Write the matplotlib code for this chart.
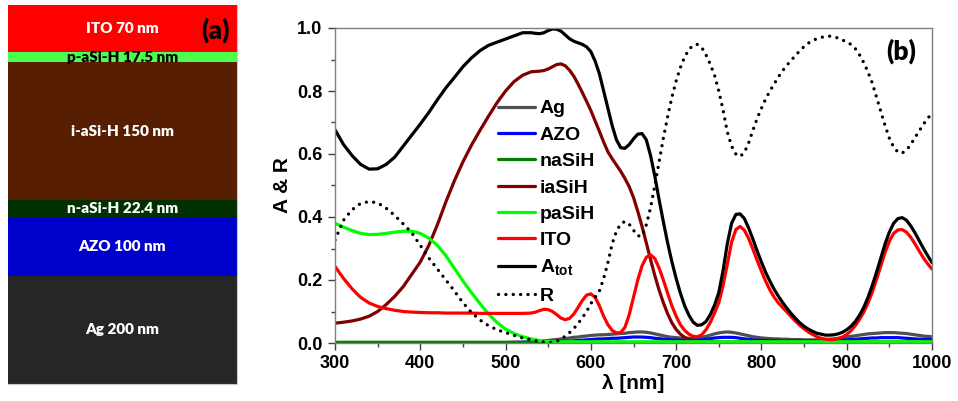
import numpy as np
import matplotlib
matplotlib.use("Agg")
import matplotlib.pyplot as plt
from matplotlib.ticker import MultipleLocator, FormatStrFormatter

# ---------------- data ----------------
# Panel (a): layer stack, listed bottom -> top (drawn heights are schematic)
layer_labels = ["Ag 200 nm", "AZO 100 nm", "n-aSi-H 22.4 nm", "i-aSi-H 150 nm", "p-aSi-H 17.5 nm", "ITO 70 nm"]
layer_heights = [108, 59, 17, 138, 10, 47]
layer_colors = ["#262626", "#0000CC", "#013001", "#581E02", "#4CFF4C", "#FF0000"]
layer_text_colors = ["white", "white", "white", "white", "black", "white"]

# Panel (b): absorption / reflection spectra (10 nm steps to 520, then 5 nm)
wavelength = [300, 310, 320, 330, 340, 350, 360, 370, 380, 390,
              400, 410, 420, 430, 440, 450, 460, 470, 480, 490,
              500, 510, 520,
              530, 535, 540, 545, 550, 555, 560, 565, 570, 575,
              580, 585, 590, 595, 600, 605, 610, 615, 620, 625,
              630, 635, 640, 645, 650, 655, 660, 665, 670, 675,
              680, 685, 690, 695, 700, 705, 710, 715, 720, 725,
              730, 735, 740, 745, 750, 755, 760, 765, 770, 775,
              780, 785, 790, 795, 800, 805, 810, 815, 820, 825,
              830, 835, 840, 845, 850, 855, 860, 865, 870, 875,
              880, 885, 890, 895, 900, 905, 910, 915, 920, 925,
              930, 935, 940, 945, 950, 955, 960, 965, 970, 975,
              980, 985, 990, 995, 1000]

A_Ag = [0.002, 0.002, 0.002, 0.002, 0.002, 0.002, 0.002, 0.002, 0.002, 0.002,
        0.002, 0.002, 0.002, 0.002, 0.002, 0.002, 0.002, 0.002, 0.002, 0.002,
        0.002, 0.003, 0.003,
        0.004, 0.005, 0.006, 0.007, 0.008, 0.010, 0.011, 0.013, 0.014, 0.016,
        0.018, 0.019, 0.021, 0.022, 0.024, 0.025, 0.026, 0.026, 0.027, 0.028,
        0.029, 0.030, 0.031, 0.033, 0.034, 0.035, 0.035, 0.034, 0.032, 0.029,
        0.026, 0.023, 0.020, 0.018, 0.017, 0.016, 0.015, 0.015, 0.015, 0.016,
        0.018, 0.021, 0.025, 0.029, 0.032, 0.034, 0.035, 0.034, 0.032, 0.029,
        0.026, 0.023, 0.020, 0.018, 0.016, 0.015, 0.014, 0.013, 0.013, 0.012,
        0.012, 0.011, 0.011, 0.011, 0.010, 0.010, 0.010, 0.010, 0.011, 0.011,
        0.012, 0.013, 0.015, 0.017, 0.019, 0.021, 0.023, 0.025, 0.027, 0.029,
        0.030, 0.031, 0.032, 0.033, 0.033, 0.033, 0.032, 0.031, 0.030, 0.028,
        0.026, 0.024, 0.022, 0.021, 0.020]

A_AZO = [0.001, 0.001, 0.001, 0.001, 0.001, 0.001, 0.001, 0.001, 0.001, 0.001,
         0.001, 0.001, 0.001, 0.001, 0.001, 0.001, 0.001, 0.001, 0.001, 0.001,
         0.001, 0.001, 0.002,
         0.002, 0.002, 0.002, 0.003, 0.003, 0.004, 0.004, 0.005, 0.005, 0.006,
         0.007, 0.008, 0.009, 0.010, 0.011, 0.012, 0.013, 0.013, 0.014, 0.015,
         0.015, 0.016, 0.017, 0.018, 0.019, 0.019, 0.019, 0.018, 0.017, 0.015,
         0.014, 0.012, 0.011, 0.010, 0.009, 0.009, 0.008, 0.008, 0.009, 0.009,
         0.010, 0.012, 0.014, 0.016, 0.017, 0.018, 0.018, 0.018, 0.017, 0.015,
         0.013, 0.012, 0.010, 0.009, 0.008, 0.008, 0.007, 0.007, 0.007, 0.006,
         0.006, 0.006, 0.006, 0.006, 0.006, 0.006, 0.006, 0.006, 0.006, 0.006,
         0.007, 0.007, 0.008, 0.009, 0.010, 0.011, 0.012, 0.013, 0.014, 0.015,
         0.016, 0.016, 0.017, 0.017, 0.017, 0.017, 0.017, 0.016, 0.015, 0.014,
         0.013, 0.012, 0.012, 0.011, 0.011]

A_naSiH = [0.004, 0.004, 0.004, 0.004, 0.004, 0.004, 0.004, 0.004, 0.004, 0.004,
           0.004, 0.004, 0.004, 0.004, 0.004, 0.004, 0.004, 0.004, 0.004, 0.004,
           0.004, 0.004, 0.004,
           0.004, 0.004, 0.004, 0.004, 0.004, 0.004, 0.004, 0.004, 0.004, 0.004,
           0.004, 0.004, 0.004, 0.004, 0.004, 0.004, 0.004, 0.004, 0.004, 0.004,
           0.004, 0.004, 0.004, 0.004, 0.004, 0.004, 0.004, 0.004, 0.004, 0.004,
           0.004, 0.004, 0.004, 0.004, 0.004, 0.004, 0.004, 0.004, 0.004, 0.004,
           0.004, 0.004, 0.004, 0.004, 0.004, 0.004, 0.004, 0.004, 0.004, 0.004,
           0.004, 0.004, 0.004, 0.004, 0.004, 0.004, 0.004, 0.004, 0.004, 0.004,
           0.004, 0.004, 0.004, 0.004, 0.004, 0.004, 0.004, 0.004, 0.004, 0.004,
           0.004, 0.004, 0.004, 0.004, 0.004, 0.004, 0.004, 0.004, 0.004, 0.004,
           0.004, 0.004, 0.004, 0.004, 0.004, 0.004, 0.004, 0.004, 0.004, 0.004,
           0.004, 0.004, 0.004, 0.004, 0.004]

A_iaSiH = [0.063, 0.066, 0.070, 0.076, 0.085, 0.100, 0.122, 0.148, 0.179, 0.218,
           0.257, 0.310, 0.375, 0.448, 0.515, 0.575, 0.628, 0.675, 0.720, 0.763,
           0.800, 0.830, 0.850,
           0.861, 0.862, 0.863, 0.865, 0.870, 0.877, 0.884, 0.886, 0.880, 0.866,
           0.847, 0.822, 0.795, 0.767, 0.738, 0.705, 0.672, 0.638, 0.607, 0.585,
           0.565, 0.545, 0.522, 0.496, 0.462, 0.418, 0.370, 0.318, 0.265, 0.214,
           0.168, 0.128, 0.093, 0.064, 0.043, 0.028, 0.018, 0.012, 0.008, 0.006,
           0.005, 0.004, 0.004, 0.004, 0.003, 0.003, 0.003, 0.003, 0.003, 0.003,
           0.003, 0.003, 0.003, 0.003, 0.003, 0.003, 0.003, 0.003, 0.003, 0.003,
           0.003, 0.003, 0.003, 0.003, 0.003, 0.003, 0.003, 0.003, 0.003, 0.003,
           0.003, 0.003, 0.003, 0.003, 0.003, 0.003, 0.003, 0.003, 0.003, 0.003,
           0.003, 0.003, 0.003, 0.003, 0.003, 0.003, 0.003, 0.003, 0.003, 0.003,
           0.003, 0.003, 0.003, 0.003, 0.003]

A_paSiH = [0.380, 0.368, 0.357, 0.348, 0.344, 0.345, 0.348, 0.352, 0.355, 0.355,
           0.348, 0.333, 0.310, 0.277, 0.237, 0.197, 0.160, 0.125, 0.092, 0.065,
           0.044, 0.030, 0.020,
           0.013, 0.010, 0.008, 0.006, 0.005, 0.004, 0.004, 0.004, 0.004, 0.004,
           0.004, 0.004, 0.004, 0.004, 0.004, 0.004, 0.004, 0.004, 0.004, 0.004,
           0.004, 0.004, 0.004, 0.004, 0.004, 0.004, 0.004, 0.004, 0.004, 0.004,
           0.004, 0.004, 0.004, 0.004, 0.004, 0.004, 0.004, 0.004, 0.004, 0.004,
           0.004, 0.004, 0.004, 0.004, 0.004, 0.004, 0.004, 0.004, 0.004, 0.004,
           0.004, 0.004, 0.004, 0.004, 0.004, 0.004, 0.004, 0.004, 0.004, 0.004,
           0.004, 0.004, 0.004, 0.004, 0.004, 0.004, 0.004, 0.004, 0.004, 0.004,
           0.004, 0.004, 0.004, 0.004, 0.004, 0.004, 0.004, 0.004, 0.004, 0.004,
           0.004, 0.004, 0.004, 0.004, 0.004, 0.004, 0.004, 0.004, 0.004, 0.004,
           0.004, 0.004, 0.004, 0.004, 0.004]

A_ITO = [0.243, 0.205, 0.172, 0.145, 0.127, 0.116, 0.109, 0.104, 0.100, 0.098,
         0.097, 0.096, 0.096, 0.095, 0.095, 0.095, 0.095, 0.094, 0.094, 0.094,
         0.094, 0.094, 0.094,
         0.095, 0.098, 0.103, 0.107, 0.106, 0.100, 0.090, 0.079, 0.074, 0.078,
         0.092, 0.113, 0.135, 0.152, 0.156, 0.145, 0.118, 0.085, 0.058, 0.040,
         0.032, 0.033, 0.050, 0.090, 0.145, 0.200, 0.245, 0.272, 0.280, 0.268,
         0.238, 0.200, 0.158, 0.118, 0.085, 0.058, 0.040, 0.028, 0.021, 0.020,
         0.026, 0.042, 0.065, 0.095, 0.128, 0.182, 0.250, 0.320, 0.360, 0.370,
         0.358, 0.332, 0.298, 0.262, 0.228, 0.196, 0.168, 0.145, 0.127, 0.112,
         0.098, 0.083, 0.069, 0.056, 0.045, 0.035, 0.027, 0.020, 0.015, 0.012,
         0.011, 0.011, 0.014, 0.019, 0.027, 0.039, 0.055, 0.075, 0.098, 0.127,
         0.162, 0.202, 0.245, 0.288, 0.323, 0.348, 0.359, 0.360, 0.352, 0.336,
         0.315, 0.292, 0.270, 0.251, 0.235]

A_tot = [0.677, 0.630, 0.595, 0.567, 0.552, 0.553, 0.567, 0.590, 0.625, 0.660,
         0.695, 0.732, 0.772, 0.810, 0.843, 0.877, 0.905, 0.928, 0.945, 0.955,
         0.965, 0.975, 0.985,
         0.985, 0.983, 0.982, 0.985, 0.992, 0.997, 0.996, 0.990, 0.978, 0.966,
         0.958, 0.953, 0.948, 0.940, 0.925, 0.895, 0.855, 0.800, 0.745, 0.690,
         0.645, 0.620, 0.618, 0.630, 0.648, 0.663, 0.665, 0.645, 0.595, 0.530,
         0.455, 0.385, 0.318, 0.258, 0.205, 0.158, 0.118, 0.088, 0.066, 0.056,
         0.058, 0.068, 0.090, 0.120, 0.160, 0.230, 0.315, 0.380, 0.408, 0.410,
         0.395, 0.365, 0.330, 0.292, 0.257, 0.224, 0.196, 0.170, 0.148, 0.128,
         0.110, 0.093, 0.078, 0.064, 0.053, 0.044, 0.037, 0.031, 0.028, 0.025,
         0.025, 0.026, 0.029, 0.034, 0.042, 0.053, 0.068, 0.088, 0.113, 0.145,
         0.183, 0.225, 0.270, 0.315, 0.352, 0.380, 0.395, 0.398, 0.390, 0.372,
         0.350, 0.325, 0.300, 0.277, 0.255]

R = [0.327, 0.390, 0.423, 0.443, 0.449, 0.445, 0.428, 0.405, 0.378, 0.350,
     0.310, 0.270, 0.235, 0.200, 0.165, 0.128, 0.097, 0.073, 0.055, 0.042,
     0.033, 0.024, 0.016,
     0.010, 0.007, 0.005, 0.003, 0.002, 0.002, 0.005, 0.012, 0.022, 0.033,
     0.046, 0.062, 0.080, 0.100, 0.125, 0.145, 0.165, 0.205, 0.255, 0.315,
     0.355, 0.378, 0.386, 0.377, 0.358, 0.340, 0.340, 0.375, 0.430, 0.500,
     0.575, 0.650, 0.718, 0.780, 0.832, 0.875, 0.908, 0.932, 0.945, 0.948,
     0.938, 0.915, 0.885, 0.850, 0.800, 0.740, 0.670, 0.625, 0.600, 0.592,
     0.605, 0.635, 0.675, 0.713, 0.745, 0.775, 0.800, 0.823, 0.845, 0.865,
     0.882, 0.898, 0.913, 0.928, 0.941, 0.952, 0.960, 0.966, 0.970, 0.973,
     0.974, 0.972, 0.968, 0.962, 0.955, 0.948, 0.935, 0.915, 0.890, 0.860,
     0.825, 0.780, 0.735, 0.690, 0.650, 0.622, 0.606, 0.603, 0.612, 0.630,
     0.652, 0.673, 0.695, 0.713, 0.730]

series_labels = ["Ag", "AZO", "naSiH", "iaSiH", "paSiH", "ITO", "A$_{\\mathregular{tot}}$", "R"]
series_colors = ["#505050", "#0000FF", "#008000", "#800000", "#00FF00", "#FF0000", "#000000", "#000000"]

# ---------------- figure ----------------
plt.rcParams["font.family"] = ["Liberation Sans", "DejaVu Sans"]
fig = plt.figure(figsize=(9.58, 4.01), dpi=100)

# Panel (a)
ax_a = fig.add_axes([8 / 958, 17 / 401, 229 / 958, 379 / 401])
bottoms = np.concatenate([[0], np.cumsum(layer_heights)[:-1]])
ax_a.bar([0.5] * len(layer_heights), layer_heights, bottom=bottoms, width=1.0,
         color=layer_colors, edgecolor="none")
for lab, h, b, tc in zip(layer_labels, layer_heights, bottoms, layer_text_colors):
    ax_a.text(0.5, b + h / 2, lab, ha="center", va="center", color=tc,
              fontsize=11, fontweight="heavy", family=["Lato", "DejaVu Sans"])
ax_a.set_xlim(0, 1)
ax_a.set_ylim(0, sum(layer_heights))
ax_a.set_xticks([])
ax_a.set_yticks([])
for s in ax_a.spines.values():
    s.set_visible(False)
for side in ("right", "bottom"):
    ax_a.spines[side].set_visible(True)
    ax_a.spines[side].set_color("#C8C8C8")
ax_a.text(0.908, 0.934, "(a)", transform=ax_a.transAxes, ha="center", va="center",
          fontsize=19, fontweight="heavy", family=["Lato", "DejaVu Sans"], color="black")

# Panel (b)
ax = fig.add_axes([335 / 958, 58 / 401, 597 / 958, 315 / 401])
ys = [A_Ag, A_AZO, A_naSiH, A_iaSiH, A_paSiH, A_ITO, A_tot, R]
for y, lab, col in zip(ys, series_labels, series_colors):
    if lab == "R":
        ax.plot(wavelength, y, color=col, lw=2.4, linestyle=(0, (0.01, 2.2)),
                dash_capstyle="round", label=lab)
    else:
        ax.plot(wavelength, y, color=col, lw=2.3, label=lab,
                solid_capstyle="round", solid_joinstyle="round")

ax.set_xlim(300, 1000)
ax.set_ylim(0, 1.0)
ax.xaxis.set_major_locator(MultipleLocator(100))
ax.xaxis.set_minor_locator(MultipleLocator(50))
ax.yaxis.set_major_locator(MultipleLocator(0.2))
ax.yaxis.set_minor_locator(MultipleLocator(0.1))
ax.yaxis.set_major_formatter(FormatStrFormatter("%.1f"))
ax.tick_params(which="major", direction="out", length=5, width=1, color="#404040",
               labelsize=13, pad=4)
ax.tick_params(which="minor", direction="out", length=3, width=1, color="#404040")
for lbl in ax.get_xticklabels() + ax.get_yticklabels():
    lbl.set_fontweight("bold")
for s in ax.spines.values():
    s.set_color("#7F7F7F")
    s.set_linewidth(1.0)

ax.set_ylabel("A & R", fontsize=15, fontweight="bold", labelpad=4)
ax.set_xlabel("λ [nm]", fontsize=15, fontweight="bold", labelpad=1)

ax.text(0.949, 0.925, "(b)", transform=ax.transAxes, ha="center", va="center",
        fontsize=19, fontweight="heavy", family=["Lato", "DejaVu Sans"])

leg = ax.legend(loc="upper left", bbox_to_anchor=(0.273, 0.772), frameon=False,
                prop={"family": "Liberation Sans", "weight": "bold", "size": 14},
                handlelength=1.9, handletextpad=0.26, labelspacing=0.45,
                borderpad=0, borderaxespad=0)

fig.savefig("out.png", dpi=100)
